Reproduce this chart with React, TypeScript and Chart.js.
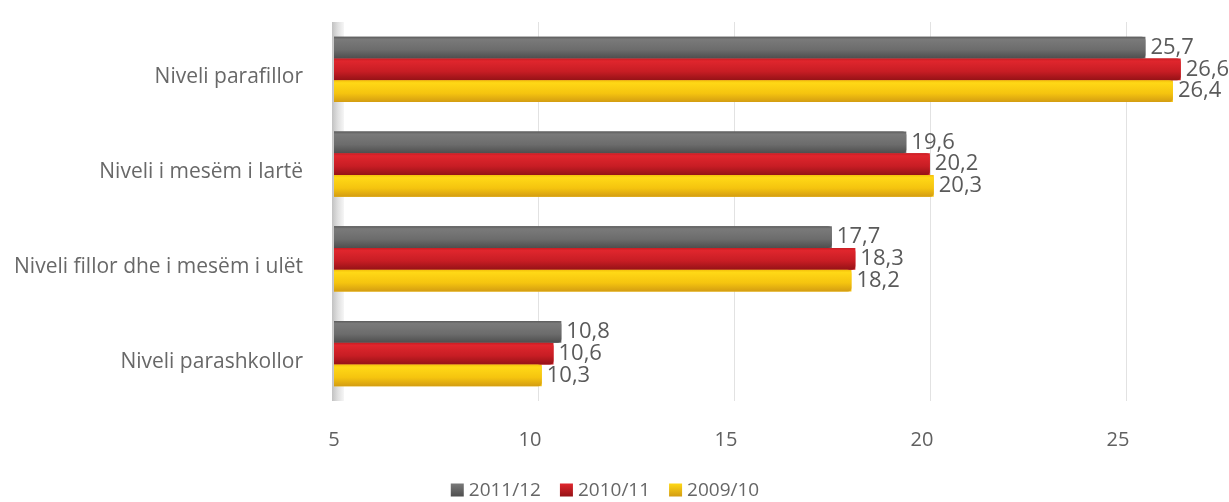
import React, { useEffect, useRef } from "react";
import { Chart, registerables } from "chart.js";

Chart.register(...registerables);

const CATEGORIES = [
  "Niveli parafillor",
  "Niveli i mesëm i lartë",
  "Niveli fillor dhe i mesëm i ulët",
  "Niveli parashkollor",
];
const SERIES_LABELS = ["2011/12", "2010/11", "2009/10"];
const VALUES_2011_12 = [25.7, 19.6, 17.7, 10.8];
const VALUES_2010_11 = [26.6, 20.2, 18.3, 10.6];
const VALUES_2009_10 = [26.4, 20.3, 18.2, 10.3];
const X_TICKS = [5, 10, 15, 20, 25];
const X_MIN = 5;
const X_MAX = 27.5;

const BASE_COLORS = ["#6b6b6b", "#d41f26", "#f6c210"];
const GRADIENT_STOPS = [
  ["#5a5a5a", "#7a7a7a", "#6c6c6c", "#4e4e4e"],
  ["#c81c22", "#e0262d", "#c71d24", "#951216"],
  ["#f3c00c", "#ffd816", "#f5c40f", "#d39c12"],
];

const FONT = '"Open Sans", "Liberation Sans", sans-serif';

const fmt = (v: number) => v.toFixed(1).replace(".", ",");

const barStylePlugin = {
  id: "barStyle",
  beforeDatasetsDraw(chart: any) {
    const ctx = chart.ctx;
    const area = chart.chartArea;
    const xs = chart.scales.x;
    ctx.save();
    ctx.strokeStyle = "#e2e2e2";
    ctx.lineWidth = 1;
    X_TICKS.forEach((v) => {
      if (v === X_MIN) return;
      const px = Math.round(xs.getPixelForValue(v)) + 8.5;
      ctx.beginPath();
      ctx.moveTo(px, area.top);
      ctx.lineTo(px, area.bottom);
      ctx.stroke();
    });
    const g = ctx.createLinearGradient(area.left - 2, 0, area.left + 10, 0);
    g.addColorStop(0, "#c2c2c2");
    g.addColorStop(0.5, "#e0e0e0");
    g.addColorStop(1, "#f6f6f6");
    ctx.fillStyle = g;
    ctx.fillRect(area.left - 2, area.top, 12, area.bottom - area.top);
    ctx.restore();
  },
  afterDatasetsDraw(chart: any) {
    const ctx = chart.ctx;
    const area = chart.chartArea;
    chart.data.datasets.forEach((ds: any, i: number) => {
      const meta = chart.getDatasetMeta(i);
      const stops = GRADIENT_STOPS[i];
      meta.data.forEach((el: any, j: number) => {
        const { x, y, base, height } = el.getProps(["x", "y", "base", "height"], true);
        const top = y - height / 2;
        const bot = y + height / 2;
        const left = Math.max(base, area.left);
        const g = ctx.createLinearGradient(0, top, 0, bot);
        g.addColorStop(0, stops[0]);
        g.addColorStop(0.12, stops[1]);
        g.addColorStop(0.6, stops[2]);
        g.addColorStop(1, stops[3]);
        ctx.save();
        ctx.fillStyle = g;
        ctx.beginPath();
        const r = 4;
        ctx.moveTo(left, top);
        ctx.lineTo(x - r, top);
        ctx.quadraticCurveTo(x, top, x, top + r);
        ctx.lineTo(x, bot - r);
        ctx.quadraticCurveTo(x, bot, x - r, bot);
        ctx.lineTo(left, bot);
        ctx.closePath();
        ctx.fill();
        ctx.fillStyle = "#5a5a5a";
        ctx.font = `22px ${FONT}`;
        ctx.textAlign = "left";
        ctx.textBaseline = "middle";
        ctx.fillText(fmt(ds.data[j]), x + 5, y);
        ctx.restore();
      });
    });
  },
  afterDraw(chart: any) {
    const ctx = chart.ctx;
    ctx.save();
    ctx.font = `19px ${FONT}`;
    ctx.textBaseline = "middle";
    ctx.textAlign = "left";
    const box = 13;
    const gapBoxText = 5;
    const gapItems = 19;
    const widths = SERIES_LABELS.map((l) => box + gapBoxText + ctx.measureText(l).width);
    const total = widths.reduce((a, b) => a + b, 0) + gapItems * (widths.length - 1);
    const cy = 490;
    let cx = 605 - total / 2;
    SERIES_LABELS.forEach((l, i) => {
      const stops = GRADIENT_STOPS[i];
      const g = ctx.createLinearGradient(0, cy - box / 2, 0, cy + box / 2);
      g.addColorStop(0, stops[1]);
      g.addColorStop(1, stops[3]);
      ctx.fillStyle = g;
      ctx.fillRect(cx, cy - box / 2, box, box);
      ctx.fillStyle = "#666666";
      ctx.fillText(l, cx + box + gapBoxText, cy + 1);
      cx += widths[i] + gapItems;
    });
    ctx.restore();
  },
};

export default function App() {
  const ref = useRef<HTMLCanvasElement | null>(null);
  useEffect(() => {
    if (!ref.current) return;
    const datasetsValues = [VALUES_2011_12, VALUES_2010_11, VALUES_2009_10];
    const chart = new Chart(ref.current, {
      type: "bar",
      data: {
        labels: CATEGORIES,
        datasets: SERIES_LABELS.map((label, i) => ({
          label,
          data: datasetsValues[i],
          backgroundColor: BASE_COLORS[i],
          base: X_MIN,
          categoryPercentage: 0.69,
          barPercentage: 1,
        })),
      },
      options: {
        indexAxis: "y",
        animation: false,
        responsive: true,
        maintainAspectRatio: false,
        layout: { padding: { top: 22, right: 13, left: 0, bottom: 0 } },
        plugins: {
          legend: { display: false },
          tooltip: { enabled: false },
        },
        scales: {
          x: {
            min: X_MIN,
            max: X_MAX,
            afterBuildTicks: (scale: any) => {
              scale.ticks = X_TICKS.map((v) => ({ value: v }));
            },
            afterFit: (scale: any) => {
              scale.height = 101;
              scale.paddingLeft = 0;
              scale.paddingRight = 0;
            },
            grid: { display: false, drawTicks: false },
            border: { display: false },
            ticks: {
              padding: 27,
              color: "#606060",
              font: { family: FONT, size: 20 },
              callback: (v: any) => String(v),
            },
          },
          y: {
            afterFit: (scale: any) => {
              scale.width = 334;
              scale.paddingTop = 0;
              scale.paddingBottom = 0;
            },
            grid: { display: false, drawTicks: false },
            border: { display: false },
            ticks: {
              padding: 31,
              labelOffset: 8,
              color: "#686868",
              font: { family: FONT, size: 21 },
            },
          },
        },
      },
      plugins: [barStylePlugin],
    });
    return () => chart.destroy();
  }, []);
  return (
    <div style={{ position: "absolute", left: 0, top: 0, width: 1229, height: 502, background: "#ffffff" }}>
      <canvas ref={ref} />
    </div>
  );
}
